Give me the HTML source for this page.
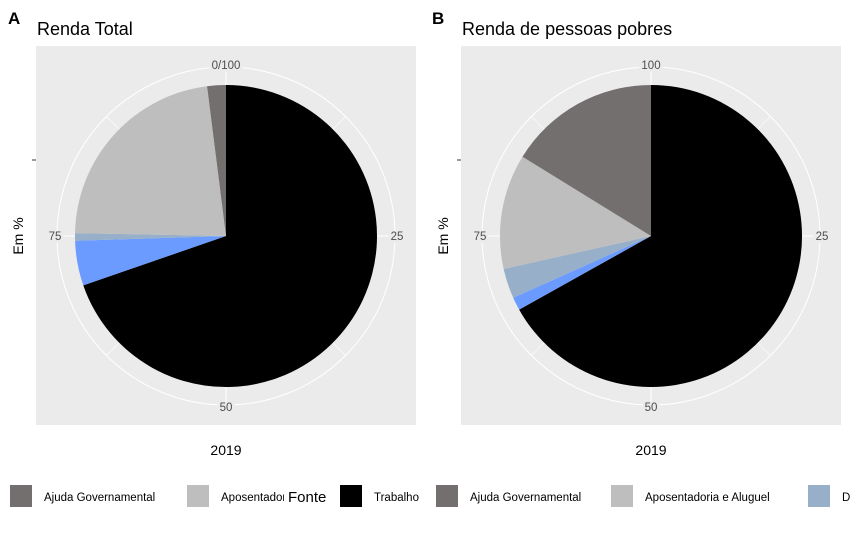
<!DOCTYPE html>
<html><head><meta charset="utf-8"><style>
body{margin:0;background:#fff;}
svg{display:block;font-family:"Liberation Sans",Arial,sans-serif;}
</style></head><body>
<svg id="chart" width="850" height="536" viewBox="0 0 850 536">
<text x="8" y="24" font-size="17" font-weight="bold">A</text>
<text x="37" y="35" font-size="18">Renda Total</text>
<text x="432" y="24" font-size="17" font-weight="bold">B</text>
<text x="462" y="35" font-size="18">Renda de pessoas pobres</text>
<g id="pa"></g>
<g id="pb"></g>
<g id="legend"></g>
</svg>
<script>
const categories=["Trabalho","Outros","Doações","Aposentadoria e Aluguel","Ajuda Governamental"];
const colors=["#000000","#6b9bff","#97afc8","#bebebe","#736f6e"];
const valuesA=[69.7,4.8,0.8,22.7,2.0];
const valuesB=[66.9,1.4,3.2,12.3,16.2];
const tickValues=[0,25,50,75];
const tickLabelsA=["0/100","25","50","75"];
const tickLabelsB=["100","25","50","75"];
const NS="http://www.w3.org/2000/svg";
function mk(t,a,p){const e=document.createElementNS(NS,t);for(const k in a)e.setAttribute(k,a[k]);p.appendChild(e);return e;}
function ang(v){return v/100*2*Math.PI;}
function pt(cx,cy,r,v){const a=ang(v);return [cx+r*Math.sin(a),cy-r*Math.cos(a)];}
function panel(g,x0,vals,labels,pre){
  const cx=x0+190,cy=236,R=151,RG=169;
  const bg=mk('rect',{x:x0,y:46,width:380,height:379,fill:'#ebebeb'},g);
  
  
  const c=mk('circle',{cx:cx,cy:cy,r:RG,fill:'none',stroke:'#fff','stroke-width':1},g);
  
  
  for(let i=0;i<8;i++){const v=i*12.5;const p1=pt(cx,cy,0,v),p2=pt(cx,cy,RG,v);
    const l=mk('line',{x1:p1[0],y1:p1[1],x2:p2[0],y2:p2[1],stroke:'#fff','stroke-width':i%2?0.6:1.1},g);
    
    }
  const tot=vals.reduce((a,b)=>a+b,0);let acc=0;
  vals.forEach((v,i)=>{const s=acc/tot*100,e=(acc+v)/tot*100;acc+=v;
    const a=pt(cx,cy,R,s),b=pt(cx,cy,R,e);const large=(e-s)>50?1:0;
    const p=mk('path',{d:`M${cx},${cy}L${a[0]},${a[1]}A${R},${R} 0 ${large} 1 ${b[0]},${b[1]}Z`,fill:colors[i]},g);
    
    });
  tickValues.forEach((v,i)=>{const p=pt(cx,cy,RG+2,v);
    const t=mk('text',{x:p[0],y:p[1]+4,'font-size':11.5,fill:'#4d4d4d','text-anchor':'middle'},g);
    t.textContent=labels[i];
    const bb=t.getBBox();
    const r=mk('rect',{x:bb.x-2,y:bb.y,width:bb.width+4,height:bb.height,fill:'#ebebeb'},g);
    g.insertBefore(r,t);
    
    });
  const tk=mk('line',{x1:x0-4,y1:160,x2:x0,y2:160,stroke:'#333'},g);
  
  
  const yl=mk('text',{x:0,y:0,'font-size':14,'text-anchor':'middle',transform:`translate(${x0-13},236) rotate(-90)`},g);
  yl.textContent='Em %';
  
  
  const xl=mk('text',{x:cx,y:455,'font-size':14,'text-anchor':'middle'},g);
  xl.textContent='2019';
  
  
}
panel(document.getElementById('pa'),36,valuesA,tickLabelsA,'panel-a');
panel(document.getElementById('pb'),461,valuesB,tickLabelsB,'panel-b');
const lg=document.getElementById('legend');
const legendItems=[[10,"#736f6e","Ajuda Governamental"],[187,"#bebebe","Aposentadoria e Aluguel"],[340,"#000000","Trabalho"],[436,"#736f6e","Ajuda Governamental"],[611,"#bebebe","Aposentadoria e Aluguel"],[808,"#97afc8","Doações"]];
legendItems.forEach((it,i)=>{
  const r=mk('rect',{x:it[0],y:485,width:22,height:22,fill:it[1]},lg);
  
  
  const t=mk('text',{x:it[0]+34,y:501,'font-size':11.5},lg);
  t.textContent=it[2];
  
  
  if(i===1){const m=mk('rect',{x:284,y:480,width:56,height:30,fill:'#fff'},lg);
    
    }
});
const ft=mk('text',{x:288,y:502,'font-size':15},lg);
ft.textContent='Fonte';


</script>
</body></html>
